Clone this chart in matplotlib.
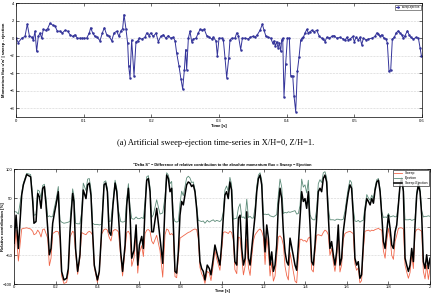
import matplotlib.pyplot as plt

# (a) artificial sweep-ejection momentum flux series
flux_t = [
    0.0000, 0.0034, 0.0084, 0.0133, 0.0167, 0.0197, 0.0232, 0.0256, 0.0281, 0.0305,
    0.0330, 0.0355, 0.0379, 0.0404, 0.0438, 0.0468, 0.0502, 0.0542, 0.0576, 0.0611,
    0.0650, 0.0685, 0.0724, 0.0764, 0.0798, 0.0837, 0.0872, 0.0906, 0.0940, 0.0970,
    0.1010, 0.1044, 0.1084, 0.1103, 0.1133, 0.1167, 0.1202, 0.1241, 0.1276, 0.1305,
    0.1340, 0.1379, 0.1414, 0.1448, 0.1488, 0.1522, 0.1547, 0.1576, 0.1596, 0.1626,
    0.1650, 0.1665, 0.1685, 0.1709, 0.1744, 0.1773, 0.1798, 0.1823, 0.1857, 0.1906,
    0.1931, 0.1965, 0.1990, 0.2029, 0.2069, 0.2103, 0.2138, 0.2177, 0.2212, 0.2251,
    0.2286, 0.2325, 0.2350, 0.2374, 0.2409, 0.2438, 0.2463, 0.2488, 0.2507, 0.2522,
    0.2547, 0.2571, 0.2596, 0.2621, 0.2660, 0.2694, 0.2719, 0.2754, 0.2783, 0.2818,
    0.2857, 0.2892, 0.2916, 0.2955, 0.2975, 0.3000, 0.3039, 0.3064, 0.3089, 0.3113,
    0.3143, 0.3162, 0.3187, 0.3236, 0.3261, 0.3286, 0.3320, 0.3345, 0.3384, 0.3433,
    0.3458, 0.3498, 0.3532, 0.3566, 0.3606, 0.3640, 0.3665, 0.3694, 0.3729, 0.3764,
    0.3793, 0.3813, 0.3832, 0.3852, 0.3872, 0.3892, 0.3911, 0.3926, 0.3941, 0.3960,
    0.3985, 0.4010, 0.4039, 0.4059, 0.4089, 0.4108, 0.4133, 0.4157, 0.4182, 0.4207,
    0.4231, 0.4246, 0.4271, 0.4296, 0.4320, 0.4345, 0.4370, 0.4404, 0.4443, 0.4483,
    0.4517, 0.4542, 0.4566, 0.4591, 0.4631, 0.4665, 0.4699, 0.4739, 0.4788, 0.4837,
    0.4862, 0.4887, 0.4911, 0.4936, 0.4975, 0.5000, 0.5024, 0.5059, 0.5083, 0.5108,
    0.5133, 0.5172, 0.5206, 0.5256, 0.5305, 0.5330, 0.5354, 0.5379, 0.5404, 0.5438,
    0.5468, 0.5487, 0.5512, 0.5537, 0.5561, 0.5591, 0.5615, 0.5650, 0.5675, 0.5700,
    0.5724, 0.5749, 0.5783, 0.5808, 0.5833, 0.5872, 0.5911, 0.5946, 0.5971, 0.5990,
]
flux_uw = [
    0.0, -0.5, 0.0, 0.2, 1.6, 0.3, 0.1, -0.2, 0.8, -1.5,
    0.2, 0.6, 0.0, 1.0, 0.9, 1.1, 1.7, 1.5, 1.4, 0.8,
    0.8, 0.6, 0.9, 0.8, 0.4, 0.2, 0.4, 0.0, 0.0, 0.0,
    0.0, 0.0, 0.6, 1.2, 0.6, 0.2, 0.1, -0.3, 0.6, 1.2,
    0.4, 0.2, -0.3, 0.6, 0.8, 0.2, 0.8, 1.1, 2.7, 1.0,
    -0.6, -3.2, -4.5, -0.2, -4.3, -0.4, -0.3, 0.0, -0.1, 0.1,
    0.6, 0.3, 0.6, 0.2, 0.6, -0.4, 0.2, 0.4, 0.0, 0.3,
    0.0, 0.1, -0.3, -1.7, -3.2, -4.7, -5.8, -3.6, -1.3, -3.6,
    0.0, 0.8, -0.4, -0.1, 0.0, 0.6, 1.0, 0.9, 1.0, 0.3,
    0.1, -0.1, 0.1, -0.3, -2.0, 0.0, 0.0, -0.2, -2.3, -4.5,
    -2.3, -0.2, 0.0, 0.0, 0.6, 0.3, -1.3, 0.0, 0.0, -0.1,
    0.1, 0.2, 0.1, 0.4, 0.9, 1.6, 0.9, 0.2, 0.1, 0.0,
    -0.55, -0.3, -0.9, -0.4, -1.1, -0.55, -1.5, -0.2, 0.0, -6.7,
    -2.9, 0.0, 0.0, -4.3, -4.3, -6.6, -8.4, -3.8, -2.2, -0.2,
    0.0, 0.1, 0.6, 1.0, 0.6, 0.75, 0.9, 0.75, 0.9, 0.2,
    0.0, -0.1, -0.4, 0.1, 0.0, 0.2, 0.3, 0.0, 0.1, -0.1,
    -0.25, 0.1, -0.2, -0.1, 0.2, -0.4, 0.1, -0.2, 0.1, -0.75,
    0.0, -0.2, -0.1, 0.0, 0.2, 0.6, 0.5, 0.2, 0.4, 0.0,
    -0.1, -0.55, -3.8, -3.6, -0.1, 0.1, 0.6, 0.85, 0.6, 0.4,
    0.0, 0.3, 0.85, 0.4, 0.1, -0.1, 0.1, 0.0, -1.1, -2.0,
]

# (b) Delta S: relative contributions [%]
ds_t = [
    0.000, 0.010, 0.021, 0.037, 0.045, 0.061, 0.080, 0.090, 0.096, 0.106,
    0.114, 0.122, 0.130, 0.138, 0.146, 0.154, 0.162, 0.170, 0.178, 0.186,
    0.194, 0.202, 0.213, 0.221, 0.229, 0.240, 0.253, 0.261, 0.269, 0.282,
    0.288, 0.296, 0.306, 0.317, 0.325, 0.333, 0.346, 0.354, 0.362, 0.370,
    0.378, 0.386, 0.401, 0.410, 0.421, 0.433, 0.441, 0.449, 0.457, 0.466,
    0.476, 0.486, 0.494, 0.502, 0.513, 0.522, 0.534, 0.542, 0.550, 0.558,
    0.566, 0.577, 0.587, 0.595, 0.603, 0.614, 0.622, 0.630, 0.638, 0.646,
    0.654, 0.662, 0.670, 0.686, 0.702, 0.715, 0.726, 0.734, 0.742, 0.750,
    0.758, 0.766, 0.774, 0.782, 0.790, 0.798, 0.806, 0.814, 0.822, 0.830,
    0.838, 0.846, 0.854, 0.862, 0.870, 0.878, 0.886, 0.894, 0.902, 0.910,
    0.918, 0.929, 0.939, 0.947, 0.958, 0.966, 0.974, 0.990, 0.998, 1.006,
    1.014, 1.022, 1.030, 1.038, 1.046, 1.054, 1.062, 1.071, 1.079, 1.087,
    1.095, 1.103, 1.111, 1.119, 1.127, 1.135, 1.143, 1.151, 1.159, 1.167,
    1.175, 1.183, 1.191, 1.199, 1.207, 1.215, 1.223, 1.231, 1.239, 1.247,
    1.255, 1.263, 1.271, 1.279, 1.287, 1.295, 1.303, 1.311, 1.319, 1.327,
    1.351, 1.359, 1.367, 1.375, 1.383, 1.391, 1.399, 1.407, 1.415, 1.423,
    1.431, 1.439, 1.447, 1.455, 1.463, 1.471, 1.479, 1.487, 1.495, 1.503,
    1.511, 1.519, 1.527, 1.535, 1.543, 1.551, 1.559, 1.567, 1.575, 1.583,
    1.591, 1.599, 1.607, 1.615, 1.623, 1.631, 1.639, 1.647, 1.655, 1.663,
    1.671, 1.679, 1.687, 1.696, 1.704, 1.712, 1.720, 1.728, 1.736, 1.744,
    1.752, 1.760, 1.768, 1.776, 1.784, 1.792, 1.800, 1.808, 1.816, 1.824,
    1.832, 1.840, 1.848, 1.856, 1.864, 1.872, 1.880, 1.888, 1.896, 1.904,
    1.912, 1.920, 1.928, 1.936, 1.944, 1.952, 1.960, 1.968, 1.976, 1.984,
    1.992, 2.000,
]
delta_s = [
    -29, 20, -38, 55, 73, 91, 87, 44, 6, 9,
    58, 52, 32, 67, 70, 38, -3, -49, -38, 6,
    23, 38, 61, -9, -78, -93, -90, -73, -9, 58,
    44, -38, -78, -49, 15, 64, 49, 73, 76, 55,
    -9, -67, -93, -78, -9, 73, 76, 61, -9, -15,
    38, 76, 61, 20, -44, -78, -32, 38, 67, 20,
    -55, -41, 3, -67, -32, -17, -38, 32, 81, 84,
    61, -9, -9, 32, -20, -64, 38, 90, 84, 61,
    67, 3, -78, -81, -44, 20, 44, 38, 55, 73,
    78, 76, 70, 73, 61, 32, -9, -61, -73, -78,
    -93, -67, -73, -84, -55, -32, -44, -67, -32, 15,
    55, 61, 49, 78, 64, -9, -61, -67, 15, 20,
    -38, -67, -55, 26, -55, -67, -38, -9, 20, 61,
    84, 90, 73, 3, -44, 3, -20, -67, -44, -78,
    -67, -32, 38, 67, 49, -9, -44, -61, -67, -20,
    -67, -76, -32, 15, 61, 44, 49, 32, 61, 3,
    -61, -67, -32, 15, 61, 67, 61, 84, 90, 78,
    20, -38, -26, -49, -67, -44, 3, -67, -55, -9,
    15, 38, 58, 73, 67, 20, -55, -67, -61, -90,
    -84, -32, 26, 49, 44, 38, 49, 41, 64, 78,
    81, 61, 20, -26, -38, -9, 20, -3, -32, -38,
    -9, 3, 38, 73, 84, 61, -55, -67, -78, -67,
    -38, -61, 3, 55, 73, 61, 20, -61, -73, -49,
    -73, -55,
]
sweep = [
    -55, -6, -60, -4, -3, -2, -4, -8, -14, -12,
    -6, -10, -18, -5, -4, -12, -20, -68, -55, -12,
    -10, -8, -9, -20, -86, -99, -97, -81, -18, -8,
    -10, -44, -83, -54, -10, -12, -14, -10, -8, -10,
    -15, -71, -97, -81, -13, -5, -4, -6, -18, -25,
    -7, -5, -6, -9, -53, -86, -41, -10, -8, -14,
    -69, -54, -14, -81, -46, -33, -52, -12, -6, -5,
    -8, -25, -30, -15, -42, -88, -14, -4, -6, -14,
    -12, -15, -87, -89, -53, -20, -18, -16, -14, -12,
    -10, -9, -7, -5, -4, -5, -20, -71, -82, -88,
    -99, -78, -81, -94, -67, -41, -55, -76, -44, -10,
    -9, -10, -12, -8, -10, -22, -75, -82, -18, -20,
    -54, -84, -69, -22, -71, -85, -53, -24, -14, -10,
    -6, -4, -8, -18, -66, -18, -42, -86, -62, -95,
    -86, -53, -18, -16, -20, -32, -69, -85, -93, -45,
    -95, -98, -55, -22, -22, -25, -24, -27, -20, -18,
    -75, -79, -44, -15, -14, -15, -16, -10, -6, -8,
    -14, -50, -38, -61, -78, -57, -10, -79, -67, -22,
    -12, -10, -9, -8, -10, -12, -65, -76, -72, -98,
    -94, -43, -8, -7, -6, -8, -6, -7, -5, -4,
    -3, -5, -6, -42, -55, -25, -3, -20, -50, -57,
    -26, -15, -3, -2, -2, -4, -67, -79, -90, -80,
    -49, -73, -10, -5, -4, -6, -8, -78, -91, -67,
    -92, -73,
]
ejection = [
    26, 26, 22, 59, 76, 93, 91, 52, 20, 21,
    64, 62, 50, 72, 74, 50, 17, 19, 17, 18,
    33, 46, 70, 11, 8, 6, 7, 8, 9, 66,
    54, 6, 5, 5, 25, 76, 63, 83, 84, 65,
    6, 4, 4, 3, 4, 78, 80, 67, 9, 10,
    45, 81, 67, 29, 9, 8, 9, 48, 75, 34,
    14, 13, 17, 14, 14, 16, 14, 44, 87, 89,
    69, 16, 21, 47, 22, 24, 52, 94, 90, 75,
    79, 18, 9, 8, 9, 40, 62, 54, 69, 85,
    88, 85, 77, 78, 65, 37, 11, 10, 9, 10,
    6, 11, 8, 10, 12, 9, 11, 9, 12, 25,
    64, 71, 61, 86, 74, 13, 14, 15, 33, 40,
    16, 17, 14, 48, 16, 18, 15, 15, 34, 71,
    90, 94, 81, 21, 22, 21, 22, 19, 18, 17,
    19, 21, 56, 83, 69, 23, 25, 24, 26, 25,
    28, 22, 23, 37, 83, 69, 73, 59, 81, 21,
    14, 12, 12, 30, 75, 82, 77, 94, 96, 86,
    34, 12, 12, 12, 11, 13, 13, 12, 12, 13,
    27, 48, 67, 81, 77, 32, 10, 9, 11, 8,
    10, 11, 34, 56, 50, 46, 55, 48, 69, 82,
    84, 66, 26, 16, 17, 16, 23, 17, 18, 19,
    17, 18, 41, 75, 86, 65, 12, 12, 12, 13,
    11, 12, 13, 60, 77, 67, 28, 17, 18, 18,
    19, 18,
]

plt.rcParams['font.family'] = ['Liberation Sans', 'DejaVu Sans']

fig = plt.figure(figsize=(4.32, 2.93), dpi=100)


def matlab_style(ax):
    ax.tick_params(direction='in', which='both', top=True, right=True,
                   length=2, width=0.4, labelsize=3, pad=1.2)
    for s in ax.spines.values():
        s.set_linewidth(0.5)
    ax.grid(True, axis='y', linestyle=':', linewidth=0.4, color='#aaaaaa')


# top panel
ax1 = fig.add_axes([0.037, 0.601, 0.940, 0.388])
ax1.plot(flux_t, flux_uw, color='#34349a', lw=0.7, marker='.', ms=1.6,
         label="sweep-ejection")
ax1.set_xlim(0, 0.6)
ax1.set_ylim(-9, 4)
ax1.set_yticks([-8, -6, -4, -2, 0, 2, 4])
ax1.set_xticks([0, 0.1, 0.2, 0.3, 0.4, 0.5, 0.6])
ax1.set_xticklabels(['0', '0.1', '0.2', '0.3', '0.4', '0.5', '0.6'])
matlab_style(ax1)
ax1.set_xlabel('Time [s]', fontsize=3, fontweight='bold', labelpad=1)
ax1.set_ylabel("Momentum flux u'w' | sweep - ejection", fontsize=3,
               fontweight='bold')
ax1.yaxis.set_label_coords(-0.025, 0.5)
leg1 = ax1.legend(loc='upper right', fontsize=2, handlelength=1.2,
                  fancybox=False, edgecolor='black', borderpad=0.3,
                  borderaxespad=0.5)
leg1.get_frame().set_linewidth(0.4)

fig.text(0.5, 0.512, '(a) Artificial sweep-ejection time-series in X/H=0, Z/H=1.',
         family=['Liberation Serif', 'DejaVu Serif'], fontsize=6,
         ha='center', va='center')

# bottom panel
ax2 = fig.add_axes([0.0324, 0.0307, 0.9630, 0.3913])
ax2.plot(ds_t, sweep, color='#f0664a', lw=0.6, label='Sweep')
ax2.plot(ds_t, ejection, color='#5c8b78', lw=0.6, label='Ejection')
ax2.plot(ds_t, delta_s, color='black', lw=1.1, label='Sweep-Ejection')
ax2.set_xlim(0, 2)
ax2.set_ylim(-100, 100)
ax2.set_yticks([-100, -50, 0, 50, 100])
ax2.set_xticks([0, 0.2, 0.4, 0.6, 0.8, 1, 1.2, 1.4, 1.6, 1.8, 2])
ax2.set_xticklabels(['0', '0.2', '0.4', '0.6', '0.8', '1', '1.2', '1.4', '1.6', '1.8', '2'])
matlab_style(ax2)
ax2.tick_params(axis='x', pad=0.8)
ax2.set_title('"Delta S" \u2212 Difference of relative contribution to the absolute '
              'momentum flux = Sweep \u2212 Ejection', fontsize=2.8,
              fontweight='bold', pad=2.5)
ax2.set_xlabel('Time [s]', fontsize=2.8, fontweight='bold')
ax2.xaxis.set_label_coords(0.5, -0.045)
ax2.set_ylabel('Relative contribution [%]', fontsize=3, fontweight='bold')
ax2.yaxis.set_label_coords(-0.021, 0.5)
leg2 = ax2.legend(loc='upper right', fontsize=2.4, handlelength=2.5,
                  fancybox=False, edgecolor='black', borderpad=0.3,
                  borderaxespad=0.3, labelspacing=0.2)
leg2.get_frame().set_linewidth(0.5)

fig.savefig('out.png', dpi=100)
